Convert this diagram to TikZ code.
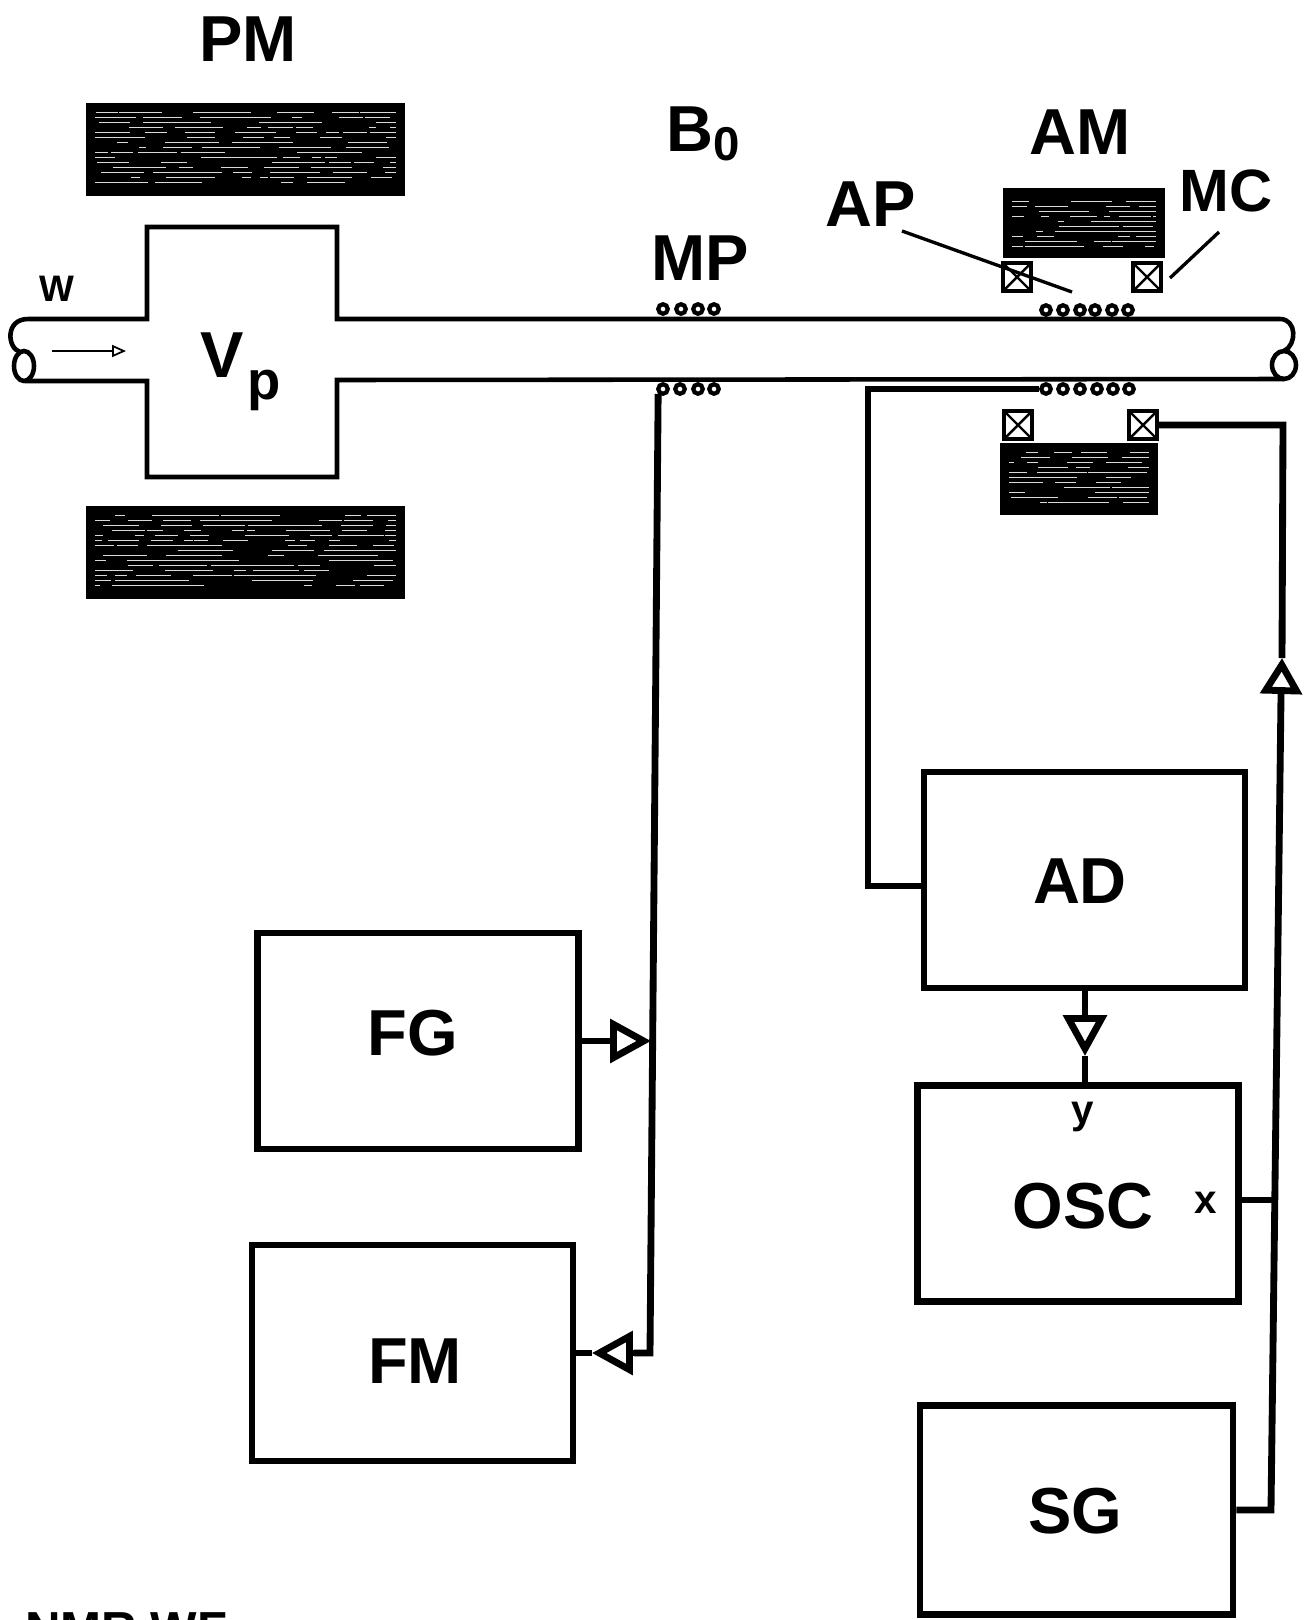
\documentclass[tikz,border=0pt]{standalone}
\usepackage{fontspec}
\setmainfont{Liberation Sans}
\usetikzlibrary{arrows.meta}
\pgfmathsetseed{1303}
\begin{document}
\begin{tikzpicture}[x=0.02cm,y=-0.02cm,
  lbl/.style={font=\bfseries\fontsize{37}{39}\selectfont,inner sep=0pt},
  small/.style={font=\bfseries\fontsize{23}{25}\selectfont,inner sep=0pt},
  box/.style={draw,line width=3.8pt,inner sep=0pt,minimum width=6.42cm,minimum height=4.32cm},
  wire/.style={line width=3.9pt,line join=miter},
  thin wire/.style={line width=3pt},
  tube/.style={line width=2.6pt,line join=miter},
  tri/.style={-{Triangle[open,length=.82cm,width=.86cm]}},
  dot/.style={circle,draw,line width=2.4pt,fill=white,minimum size=.19cm,inner sep=0pt},
  coil/.style={draw,line width=2.1pt,minimum size=.56cm,inner sep=0pt,
    path picture={\draw[line width=1.4pt] (path picture bounding box.north west) -- (path picture bounding box.south east)
      (path picture bounding box.north east) -- (path picture bounding box.south west);}},
  magnet/.style={draw=black,fill=black,line width=5pt,inner sep=0pt,
    path picture={\foreach \r in {-42,-37,...,42}{\foreach \k in {1,...,14}{
        \pgfmathsetmacro\sx{320*rnd-175}
        \pgfmathsetmacro\sl{6+30*rnd}
        \draw[white!85!black,line width=.5pt] (\sx,\r) -- ++(\sl,0);}}}}]
\useasboundingbox (0,0) rectangle (1303,1620);

% pipe and polarising volume
\draw[tube] (1280,319) -- (337,319) -- (337,227) -- (147,227) -- (147,319) -- (28,319)
  .. controls (5,319) and (7,348) .. (20,352);
\draw[tube] (25,381) -- (147,381) -- (147,477) -- (337,477) -- (337,380) -- (1284,379);
\draw[tube] (1280,319) .. controls (1297,319) and (1297,345) .. (1284,351);
\draw[tube] (24,366) ellipse [x radius=.2cm,y radius=.3cm];
\draw[tube] (1284,365) ellipse [x radius=.24cm,y radius=.28cm];
\draw[line width=1pt,-{Triangle[open,length=.28cm,width=.24cm]}] (52,351) -- (126,351);

% magnets
\node[magnet,minimum width=6.2cm,minimum height=1.68cm] (pmTop) at (245.5,149.5) {};
\node[magnet,minimum width=6.2cm,minimum height=1.68cm] (pmBot) at (245.5,552.5) {};
\node[magnet,minimum width=3.06cm,minimum height=1.22cm] (amTop) at (1084,223) {};
\node[magnet,minimum width=2.98cm,minimum height=1.26cm] (amBot) at (1079,479) {};

% coils
\node[coil] (coilA) at (1017,277) {};
\node[coil] (coilB) at (1147,277) {};
\node[coil] (coilC) at (1018,425) {};
\node[coil] (coilD) at (1143,425) {};

\foreach \x [count=\i] in {663,681,698,714} \node[dot] (mpa\i) at (\x,309) {};
\foreach \x [count=\i] in {663,680,698,714} \node[dot] (mpb\i) at (\x,389) {};
\foreach \x [count=\i] in {1046,1063,1080,1095,1112,1128} \node[dot] (apa\i) at (\x,310) {};
\foreach \x [count=\i] in {1046,1063,1080,1097,1113,1129} \node[dot] (apb\i) at (\x,389) {};

% blocks
\node[box] (FG) at (418,1041) {};
\node[box] (FM) at (412.5,1353) {};
\node[box] (AD) at (1084.5,880) {};
\node[box] (OSC) at (1078,1193.5) {};
\node[box,minimum width=6.26cm,minimum height=4.18cm] (SG) at (1076.5,1510) {};

% labels
\node[lbl] (lFG) at (413,1033) {FG};
\node[lbl] (lFM) at (415,1361) {FM};
\node[lbl] (lAD) at (1080,881) {AD};
\node[lbl] (lOSC) at (1083,1206) {OSC};
\node[lbl] (lSG) at (1075,1511) {SG};
\node[lbl] (lPM) at (248,39) {PM};
\node[lbl] (lB) at (703,134) {B\raisebox{-5pt}{\fontsize{27}{27}\selectfont 0}};
\node[lbl] (lAM) at (1080,132) {AM};
\node[lbl] (lAP) at (871,204) {AP};
\node[lbl,font=\bfseries\fontsize{34}{36}\selectfont] (lMC) at (1226,191) {MC};
\node[lbl] (lMP) at (700,258) {MP};
\node[inner sep=0pt,font=\bfseries\fontsize{21}{23}\selectfont] (lW) at (57,289) {W};
\node[inner sep=0pt,anchor=base west,font=\bfseries\fontsize{37}{39}\selectfont] (lV) at (200,377)
  {V\hspace{2pt}\raisebox{-13pt}{\fontsize{31}{33}\selectfont p}};
\node[small] (ly) at (1083,1117) {y};
\node[small] (lx) at (1206,1203) {x};
\node[inner sep=0pt,anchor=base west,font=\bfseries\fontsize{28}{30}\selectfont] (lNMR) at (25,1646) {NMR WF};

% leaders
\coordinate (apFrom) at (902,231);
\coordinate (apTo) at (1072,292);
\coordinate (mcFrom) at (1219,232);
\coordinate (mcTo) at (1170,278);
\draw[line width=1.9pt] (apFrom) -- (apTo);
\draw[line width=1.9pt] (mcFrom) -- (mcTo);

% connections
\coordinate (mpLow) at (650,1353);
\coordinate (fgTip) at (651,1041);
\coordinate (fmTip) at (592,1353);
\draw[wire] (mpb1.south west) -- (mpLow) -- (634,1353);
\draw[wire,tri] (634,1353) -- (fmTip);
\draw[wire] (fmTip) -- (FM.east);
\draw[wire,tri] (FG.east) -- (fgTip);

\coordinate (adBend) at (868,886);
\coordinate (adTop) at (868,389);
\draw[wire] (adBend -| AD.west) -- (adBend) -- (adTop) -- (apb1.west);

\coordinate (adTip) at (1085,1056);
\draw[wire,tri] (1085,988) -- (adTip);
\draw[thin wire] (adTip) -- (1085,1085);

\coordinate (sgCorner) at (1271,1510);
\coordinate (sgTip) at (1282,658);
\coordinate (mcCorner) at (1283,425);
\draw[wire] (SG.east) -- (sgCorner) -- (1281,696);
\draw[wire,-{Triangle[open,length=.72cm,width=.82cm]}] (1281,696) -- (sgTip);
\draw[wire] (sgTip) -- (mcCorner) -- (coilD.east);
\coordinate (oscTap) at (1274,1200);
\draw[thin wire] (oscTap -| OSC.east) -- (oscTap);
\end{tikzpicture}
\end{document}
